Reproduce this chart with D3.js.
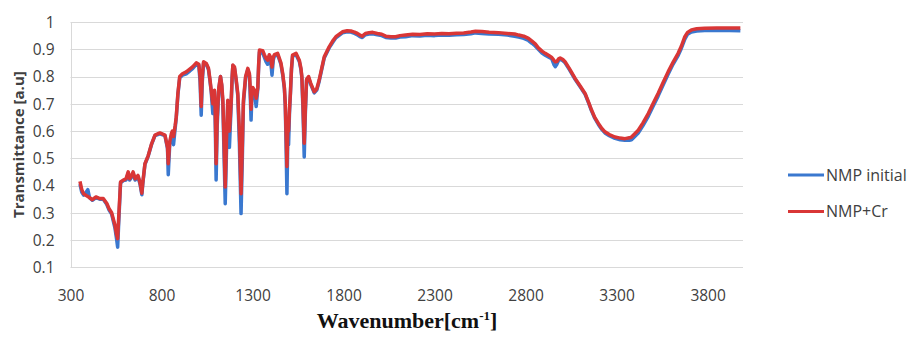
<!DOCTYPE html>
<html>
<head>
<meta charset="utf-8">
<script src="https://cdn.jsdelivr.net/npm/d3@7"></script>
<style>
  html, body { margin: 0; padding: 0; background: #fff; }
  svg { display: block; }
</style>
</head>
<body>
<svg id="chart" width="911" height="338"></svg>
<script>
// ---- data ----
const wavenumbers = [352,362,372,382,395,405,420,440,461,480,499,512,526,544,553,559,566,575,590,605,617,625,635,644,655,671,682,692,697,709,727,746,764,791,819,833,837,845,854,860,866,875,881,890,900,915,936,955,972,991,1005,1012,1018,1024,1031,1046,1058,1066,1073,1078,1082,1087,1091,1096,1100,1106,1115,1124,1131,1137,1144,1150,1156,1164,1169,1173,1178,1183,1188,1192,1201,1210,1219,1228,1237,1244,1250,1262,1274,1283,1288,1292,1296,1301,1310,1320,1329,1334,1338,1356,1365,1374,1383,1392,1400,1407,1414,1420,1438,1456,1466,1475,1480,1484,1489,1494,1498,1503,1508,1514,1520,1539,1557,1566,1571,1577,1584,1590,1597,1608,1620,1639,1653,1666,1680,1694,1721,1740,1758,1794,1820,1840,1860,1876,1890,1903,1920,1940,1960,1986,2010,2032,2060,2086,2110,2141,2180,2220,2260,2300,2340,2380,2420,2460,2500,2525,2560,2600,2652,2700,2740,2762,2790,2816,2835,2853,2870,2890,2908,2930,2944,2955,2963,2972,2982,2990,3005,3017,3040,3072,3100,3127,3145,3163,3180,3200,3218,3236,3260,3291,3320,3346,3370,3382,3400,3419,3445,3474,3500,3528,3555,3583,3610,3638,3655,3675,3690,3711,3740,3784,3850,3920,3980];

const nmpInitial = [.405,.375,.365,.372,.385,.355,.346,.356,.35,.35,.331,.31,.295,.245,.205,.174,.28,.41,.418,.42,.445,.42,.43,.445,.42,.432,.405,.366,.405,.478,.508,.552,.583,.59,.583,.535,.44,.55,.58,.595,.55,.61,.648,.733,.795,.805,.81,.82,.83,.845,.84,.78,.658,.78,.85,.845,.825,.785,.745,.7,.664,.72,.745,.6,.42,.62,.755,.8,.765,.7,.5,.333,.5,.7,.58,.54,.62,.7,.795,.84,.83,.785,.73,.55,.297,.5,.7,.795,.825,.805,.72,.64,.72,.755,.745,.69,.755,.845,.89,.885,.87,.855,.845,.87,.855,.805,.86,.875,.88,.845,.805,.755,.69,.56,.37,.58,.55,.665,.735,.825,.875,.88,.855,.825,.795,.68,.505,.66,.785,.795,.77,.74,.75,.782,.825,.868,.905,.925,.942,.96,.964,.963,.958,.953,.946,.943,.953,.956,.957,.953,.95,.943,.941,.941,.945,.946,.95,.949,.951,.95,.952,.951,.953,.954,.957,.96,.958,.956,.955,.952,.948,.945,.94,.932,.922,.912,.9,.886,.878,.87,.865,.845,.836,.845,.86,.864,.858,.85,.826,.79,.762,.735,.705,.673,.647,.624,.606,.593,.583,.573,.568,.566,.566,.568,.58,.593,.62,.654,.69,.728,.768,.808,.845,.877,.902,.937,.955,.963,.967,.969,.969,.969,.968];

const nmpCr = [.415,.385,.37,.365,.36,.355,.348,.358,.352,.352,.335,.315,.3,.255,.22,.205,.3,.413,.42,.425,.45,.425,.435,.45,.425,.437,.41,.372,.41,.48,.51,.554,.585,.593,.585,.54,.48,.56,.59,.6,.58,.62,.652,.738,.8,.81,.817,.827,.836,.85,.845,.8,.69,.8,.854,.848,.83,.79,.75,.72,.7,.73,.75,.65,.48,.65,.76,.8,.77,.713,.55,.395,.55,.713,.62,.6,.65,.713,.8,.842,.835,.79,.738,.6,.37,.55,.713,.8,.83,.81,.75,.68,.73,.76,.75,.72,.76,.85,.897,.895,.88,.867,.86,.88,.87,.835,.87,.88,.885,.85,.81,.76,.7,.6,.47,.62,.6,.68,.738,.83,.879,.885,.86,.83,.8,.7,.555,.68,.79,.8,.775,.744,.755,.787,.83,.872,.909,.93,.946,.964,.968,.967,.963,.958,.952,.948,.958,.961,.962,.958,.955,.948,.946,.946,.95,.952,.955,.954,.957,.956,.958,.957,.959,.96,.963,.966,.965,.962,.961,.958,.956,.952,.948,.94,.93,.92,.905,.893,.885,.876,.87,.86,.854,.855,.865,.868,.862,.854,.83,.793,.765,.738,.708,.676,.65,.628,.61,.597,.587,.578,.574,.572,.575,.578,.59,.603,.63,.664,.7,.738,.777,.817,.852,.885,.91,.946,.962,.971,.975,.977,.978,.978,.978];

const xTickValues = [300,800,1300,1800,2300,2800,3300,3800];
const yTickValues = [0.1,0.2,0.3,0.4,0.5,0.6,0.7,0.8,0.9,1];
const seriesNames = ["NMP initial", "NMP+Cr"];
const seriesColors = ["#3a78cf", "#d93636"];

// ---- drawing ----
const svg = d3.select("#chart");
const mLeft = 70.5, mRight = 744, mTop = 22, mBottom = 267.3;

const x = d3.scaleLinear().domain([300, 4000]).range([mLeft, mRight]);
const y = d3.scaleLinear().domain([0.1, 1]).range([mBottom, mTop]);

const gridColor = "#d9d9d9";
const textColor = "#404040";

// horizontal gridlines
svg.append("g").selectAll("line").data(yTickValues).join("line")
  .attr("x1", mLeft).attr("x2", mRight - 1)
  .attr("y1", d => Math.round(y(d)) + 0.5).attr("y2", d => Math.round(y(d)) + 0.5)
  .attr("stroke", gridColor).attr("stroke-width", 1);

// left axis line
svg.append("line")
  .attr("x1", Math.round(mLeft) + 0.5).attr("x2", Math.round(mLeft) + 0.5)
  .attr("y1", mTop).attr("y2", mBottom + 0.5)
  .attr("stroke", gridColor).attr("stroke-width", 1);

// y axis labels
const yAxis = d3.axisLeft(y).tickValues(yTickValues).tickSize(0).tickPadding(0)
  .tickFormat(d => String(+d.toFixed(1)));
const gy = svg.append("g").attr("transform", `translate(${mLeft - 16},0)`).call(yAxis);
gy.select(".domain").remove();
gy.selectAll("text").attr("font-family", "'Open Sans', sans-serif").attr("font-size", 15.5)
  .attr("fill", textColor).attr("dy", "0.34em");

// x axis labels
const xAxis = d3.axisBottom(x).tickValues(xTickValues).tickSize(0).tickPadding(0)
  .tickFormat(d3.format("d"));
const gx = svg.append("g").attr("transform", `translate(0,${mBottom + 28})`).call(xAxis);
gx.select(".domain").remove();
gx.selectAll("text").attr("font-family", "'Open Sans', sans-serif").attr("font-size", 15.5)
  .attr("fill", textColor).attr("dy", "0.34em");

// series lines
const series = [nmpInitial, nmpCr];
const line = d3.line().x((d, i) => x(wavenumbers[i])).y(d => y(d)).curve(d3.curveLinear);
svg.append("g").selectAll("path").data(series).join("path")
  .attr("d", d => line(d))
  .attr("fill", "none")
  .attr("stroke", (d, i) => seriesColors[i])
  .attr("stroke-width", 3.5)
  .attr("stroke-linejoin", "round")
  .attr("stroke-linecap", "butt");

// axis titles
svg.append("text")
  .attr("transform", `translate(19,${(mTop + mBottom) / 2}) rotate(-90)`)
  .attr("text-anchor", "middle").attr("dy", "0.35em")
  .attr("font-family", "'Open Sans', sans-serif").attr("font-weight", "bold")
  .attr("font-size", 15).attr("fill", textColor)
  .text("Transmittance [a.u]");

const xt = svg.append("text")
  .attr("x", 407).attr("y", 328)
  .attr("text-anchor", "middle")
  .attr("font-family", "'Liberation Serif', 'Times New Roman', serif").attr("font-weight", "bold")
  .attr("font-size", 22).attr("fill", "#111");
xt.append("tspan").text("Wavenumber[cm");
xt.append("tspan").attr("font-size", 13).attr("dy", -8).text("-1");
xt.append("tspan").attr("dy", 8).text("]");

// legend
const legendY = [175, 211.5];
const lg = svg.append("g");
seriesNames.forEach((name, i) => {
  lg.append("line").attr("x1", 788).attr("x2", 824)
    .attr("y1", legendY[i]).attr("y2", legendY[i])
    .attr("stroke", seriesColors[i]).attr("stroke-width", 3);
  lg.append("text").attr("x", 826).attr("y", legendY[i]).attr("dy", "0.35em")
    .attr("font-family", "'Open Sans', sans-serif").attr("font-size", 16)
    .attr("fill", textColor).text(name);
});
</script>
</body>
</html>
